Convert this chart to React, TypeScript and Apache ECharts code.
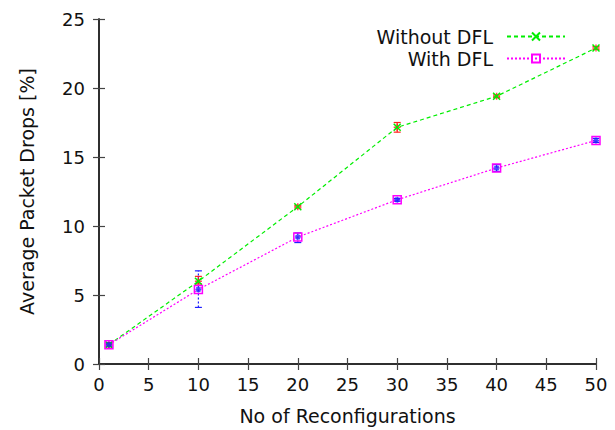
import React, { useEffect, useRef } from "react";
import * as echarts from "echarts";

const xValues = [1, 10, 20, 30, 40, 50];
const withoutDFL = [1.4, 6.0, 11.4, 17.15, 19.4, 22.9];
const withoutLow = [1.25, 5.8, 11.3, 16.8, 19.3, 22.8];
const withoutHigh = [1.55, 6.35, 11.5, 17.5, 19.5, 23.0];
const withDFL = [1.4, 5.4, 9.2, 11.9, 14.2, 16.2];
const withLow = [1.3, 4.1, 8.8, 11.8, 13.95, 16.05];
const withHigh = [1.5, 6.75, 9.5, 12.0, 14.45, 16.35];
const xTicks = [0, 5, 10, 15, 20, 25, 30, 35, 40, 45, 50];
const yTicks = [0, 5, 10, 15, 20, 25];

const FONT = "DejaVu Sans, Liberation Sans, Arial, sans-serif";

function errorBars(low: number[], high: number[], color: string, dash: number[] | null, name: string) {
  return {
    type: "custom",
    name,
    xAxisIndex: 0,
    yAxisIndex: 0,
    encode: { x: 0, y: [1, 2] },
    data: xValues.map((x, i) => [x, low[i], high[i]]),
    z: 3,
    renderItem: (params: any, api: any) => {
      const x = api.value(0);
      const p1 = api.coord([x, api.value(1)]);
      const p2 = api.coord([x, api.value(2)]);
      const w = 3.5;
      const style: any = { stroke: color, lineWidth: 1.2 };
      if (dash) style.lineDash = dash;
      return {
        type: "group",
        children: [
          { type: "line", shape: { x1: p1[0], y1: p1[1], x2: p2[0], y2: p2[1] }, style },
          { type: "line", shape: { x1: p1[0] - w, y1: p1[1], x2: p1[0] + w, y2: p1[1] }, style: { stroke: color, lineWidth: 1.2 } },
          { type: "line", shape: { x1: p2[0] - w, y1: p2[1], x2: p2[0] + w, y2: p2[1] }, style: { stroke: color, lineWidth: 1.2 } },
        ],
      };
    },
  };
}

export default function App() {
  const ref = useRef<HTMLDivElement>(null);
  useEffect(() => {
    if (!ref.current) return;
    const chart = echarts.init(ref.current, null, { renderer: "svg" });
    const axisLine = { show: true, lineStyle: { color: "#222", width: 1.5 } };
    const tick = { show: true, inside: true, length: 6, lineStyle: { color: "#444", width: 1.2 } };
    const labelStyle = { color: "#111", fontSize: 18, fontFamily: FONT };
    chart.setOption({
      animation: false,
      backgroundColor: "#fff",
      grid: { left: 99, right: 19, top: 19, bottom: 66, show: false },
      legend: {
        data: ["Without DFL", "With DFL"],
        orient: "vertical",
        right: 49,
        top: 27,
        padding: 0,
        align: "right",
        itemWidth: 58,
        itemHeight: 10,
        itemGap: 3,
        textStyle: { fontSize: 19, fontFamily: FONT, color: "#111", padding: [0, 9, 0, 0] },
        selectedMode: false,
      },
      xAxis: [
        {
          type: "value",
          min: 0,
          max: 50,
          interval: 5,
          name: "No of Reconfigurations",
          nameLocation: "middle",
          nameGap: 42,
          nameTextStyle: { fontSize: 19, fontFamily: FONT, color: "#111" },
          axisLine,
          axisTick: tick,
          axisLabel: { ...labelStyle, margin: 11, customValues: xTicks },
          splitLine: { show: false },
        },
        {
          type: "value",
          position: "top",
          min: 0,
          max: 50,
          interval: 5,
          axisLine,
          axisTick: tick,
          axisLabel: { show: false },
          splitLine: { show: false },
        },
      ],
      yAxis: [
        {
          type: "value",
          min: 0,
          max: 25,
          interval: 5,
          name: "Average Packet Drops [%]",
          nameLocation: "middle",
          nameGap: 63,
          nameTextStyle: { fontSize: 19, fontFamily: FONT, color: "#111" },
          axisLine,
          axisTick: tick,
          axisLabel: { ...labelStyle, margin: 14, customValues: yTicks },
          splitLine: { show: false },
        },
        {
          type: "value",
          position: "right",
          min: 0,
          max: 25,
          interval: 5,
          axisLine,
          axisTick: tick,
          axisLabel: { show: false },
          splitLine: { show: false },
        },
      ],
      series: [
        errorBars(withoutLow, withoutHigh, "#ff2020", null, "errWithout"),
        {
          type: "scatter",
          name: "ptWithout",
          data: xValues.map((x, i) => [x, withoutDFL[i]]),
          symbol: "path://M5,0L5,10M0,5L10,5",
          symbolSize: 7,
          itemStyle: { color: "#ff2020", borderColor: "#ff2020", borderWidth: 1.5 },
          z: 3,
        },
        {
          type: "line",
          name: "Without DFL",
          data: xValues.map((x, i) => [x, withoutDFL[i]]),
          lineStyle: { color: "#00ee00", width: 1.2, type: [4, 3] },
          symbol: "path://M0,0L10,10M10,0L0,10",
          symbolSize: 7,
          showSymbol: true,
          itemStyle: { color: "#00ee00", borderColor: "#00ee00", borderWidth: 1.5 },
          z: 4,
        },
        errorBars(withLow, withHigh, "#2020ff", [2, 2], "errWith"),
        {
          type: "line",
          name: "With DFL",
          data: xValues.map((x, i) => [x, withDFL[i]]),
          lineStyle: { color: "#ff00ff", width: 1.2, type: [2, 2] },
          symbol: "rect",
          symbolSize: 8,
          showSymbol: true,
          itemStyle: { color: "rgba(0,0,0,0)", borderColor: "#ff00ff", borderWidth: 1.5 },
          z: 4,
        },
        {
          type: "scatter",
          name: "ptWith",
          data: xValues.map((x, i) => [x, withDFL[i]]),
          symbol: "path://M5,0L5,10M0,5L10,5M1.5,1.5L8.5,8.5M8.5,1.5L1.5,8.5",
          symbolSize: 6,
          itemStyle: { color: "#2020ff", borderColor: "#2020ff", borderWidth: 1.5 },
          z: 5,
        },
      ],
    });
    return () => chart.dispose();
  }, []);
  return <div ref={ref} style={{ width: 615, height: 430, position: "absolute", left: 0, top: 0 }} />;
}
